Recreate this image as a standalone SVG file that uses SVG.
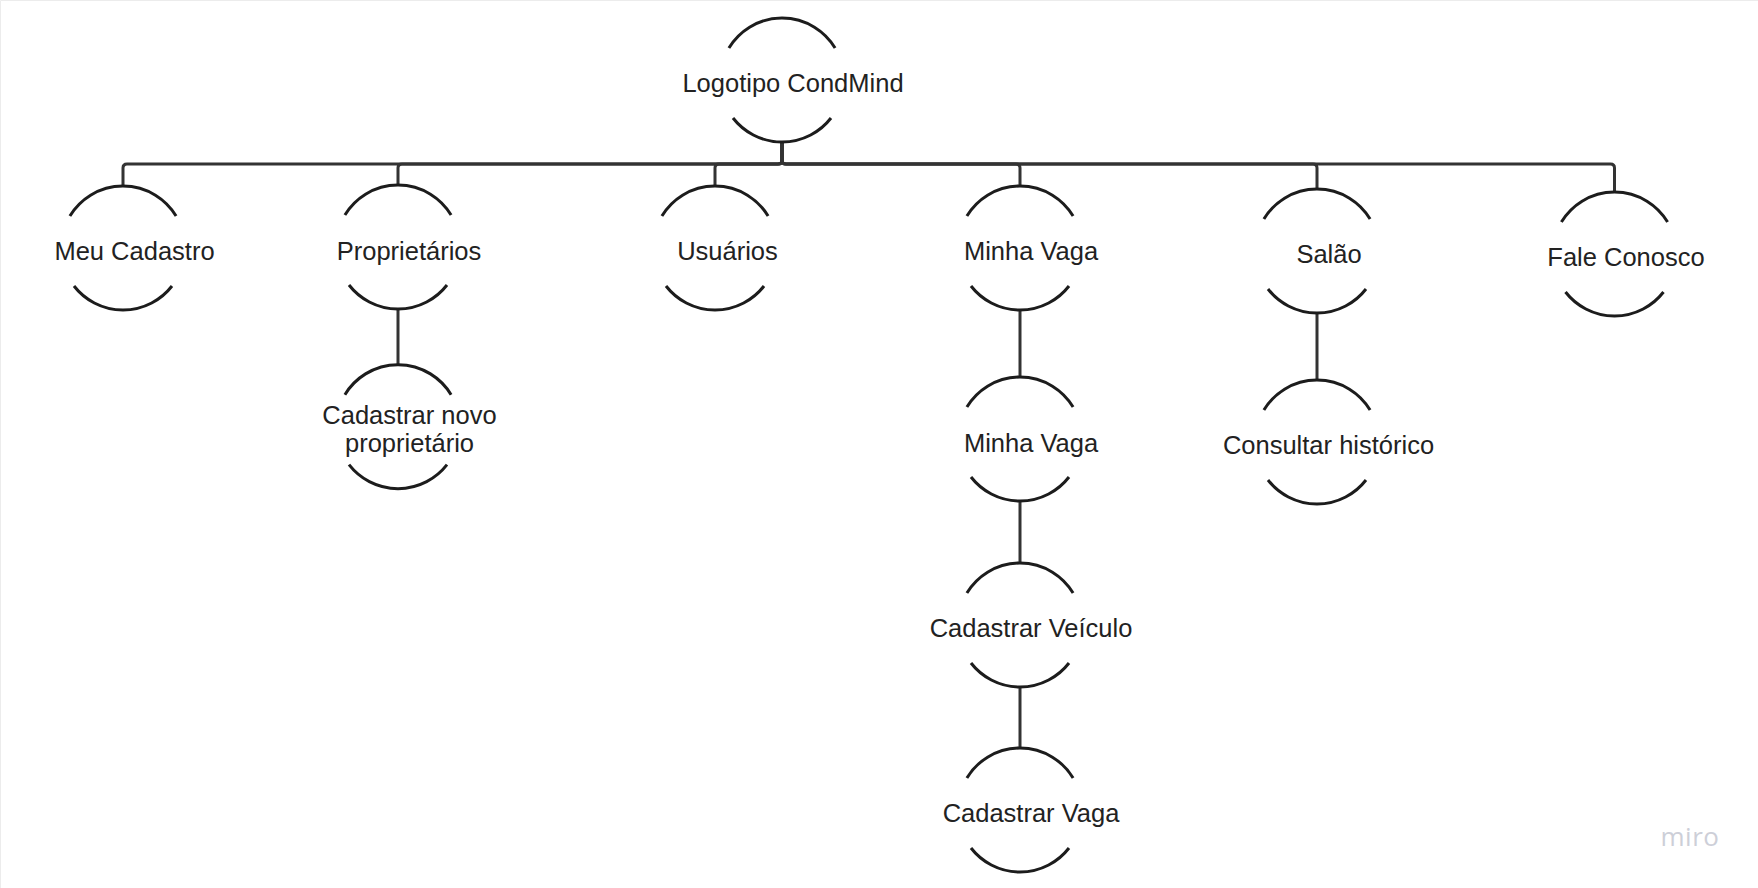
<svg xmlns="http://www.w3.org/2000/svg" xmlns:xlink="http://www.w3.org/1999/xlink" width="1758" height="888" viewBox="0 0 1758 888">
  <style>
    .arc { fill: none; stroke: #1c1c1c; stroke-width: 3; }
    .conn { fill: none; stroke: #333333; stroke-width: 3; stroke-linejoin: round; }
    .lbl { font-family: "Liberation Sans", Arial, sans-serif; font-size: 25.5px; fill: #222222; text-anchor: middle; }
    .wm { font-family: "Open Sans", "Liberation Sans", sans-serif; font-size: 26px; fill: #cdcfd8; text-anchor: middle; letter-spacing: 0.5px; }
  </style>
  <defs>
    <path id="node" d="M-53.1,-32 A62,62 0 0 1 53.1,-32 M-49,38 A62,62 0 0 0 49,38"/>
  </defs>
  <rect x="0" y="0" width="1758" height="888" fill="#ffffff"/>
  <path d="M0.5,888 V0.5 H1758" fill="none" stroke="#ececec" stroke-width="1"/>

  <g id="connectors">
    <path class="conn" d="M782,142 V160 Q782,164 778,164 H127 Q123,164 123,168 V186"/>
    <path class="conn" d="M782,142 V160 Q782,164 778,164 H402 Q398,164 398,168 V185"/>
    <path class="conn" d="M782,142 V160 Q782,164 778,164 H719 Q715,164 715,168 V186"/>
    <path class="conn" d="M782,142 V160 Q782,164 786,164 H1016 Q1020,164 1020,168 V186"/>
    <path class="conn" d="M782,142 V160 Q782,164 786,164 H1313 Q1317,164 1317,168 V189"/>
    <path class="conn" d="M782,142 V160 Q782,164 786,164 H1610.5 Q1614.5,164 1614.5,168 V192"/>
    <path class="conn" d="M398,309 V365"/>
    <path class="conn" d="M1020,310 V377"/>
    <path class="conn" d="M1020,501 V563"/>
    <path class="conn" d="M1020,687 V748"/>
    <path class="conn" d="M1317,313 V380"/>
  </g>

  <g id="node-logotipo">
    <use xlink:href="#node" href="#node" class="arc" x="782" y="80"/>
    <text class="lbl" x="793" y="92">Logotipo CondMind</text>
  </g>
  <g id="node-meu-cadastro">
    <use xlink:href="#node" href="#node" class="arc" x="123" y="248"/>
    <text class="lbl" x="134.5" y="260">Meu Cadastro</text>
  </g>
  <g id="node-proprietarios">
    <use xlink:href="#node" href="#node" class="arc" x="398" y="247"/>
    <text class="lbl" x="409" y="260">Proprietários</text>
  </g>
  <g id="node-usuarios">
    <use xlink:href="#node" href="#node" class="arc" x="715" y="248"/>
    <text class="lbl" x="727.5" y="260">Usuários</text>
  </g>
  <g id="node-minha-vaga">
    <use xlink:href="#node" href="#node" class="arc" x="1020" y="248"/>
    <text class="lbl" x="1031" y="260">Minha Vaga</text>
  </g>
  <g id="node-salao">
    <use xlink:href="#node" href="#node" class="arc" x="1317" y="251"/>
    <text class="lbl" x="1329" y="262.5">Salão</text>
  </g>
  <g id="node-fale-conosco">
    <use xlink:href="#node" href="#node" class="arc" x="1614.5" y="254"/>
    <text class="lbl" x="1626" y="265.7">Fale Conosco</text>
  </g>
  <g id="node-cadastrar-novo-proprietario">
    <use xlink:href="#node" href="#node" class="arc" x="398" y="426.7"/>
    <text class="lbl" x="409.5" y="423.5">Cadastrar novo</text>
    <text class="lbl" x="409.5" y="451.5">proprietário</text>
  </g>
  <g id="node-minha-vaga-2">
    <use xlink:href="#node" href="#node" class="arc" x="1020" y="439"/>
    <text class="lbl" x="1031" y="452">Minha Vaga</text>
  </g>
  <g id="node-consultar-historico">
    <use xlink:href="#node" href="#node" class="arc" x="1317" y="442"/>
    <text class="lbl" x="1328.5" y="453.5">Consultar histórico</text>
  </g>
  <g id="node-cadastrar-veiculo">
    <use xlink:href="#node" href="#node" class="arc" x="1020" y="625"/>
    <text class="lbl" x="1031" y="636.7">Cadastrar Veículo</text>
  </g>
  <g id="node-cadastrar-vaga">
    <use xlink:href="#node" href="#node" class="arc" x="1020" y="810"/>
    <text class="lbl" x="1031" y="822.3">Cadastrar Vaga</text>
  </g>

  <text class="wm" x="1690" y="846">miro</text>
</svg>
